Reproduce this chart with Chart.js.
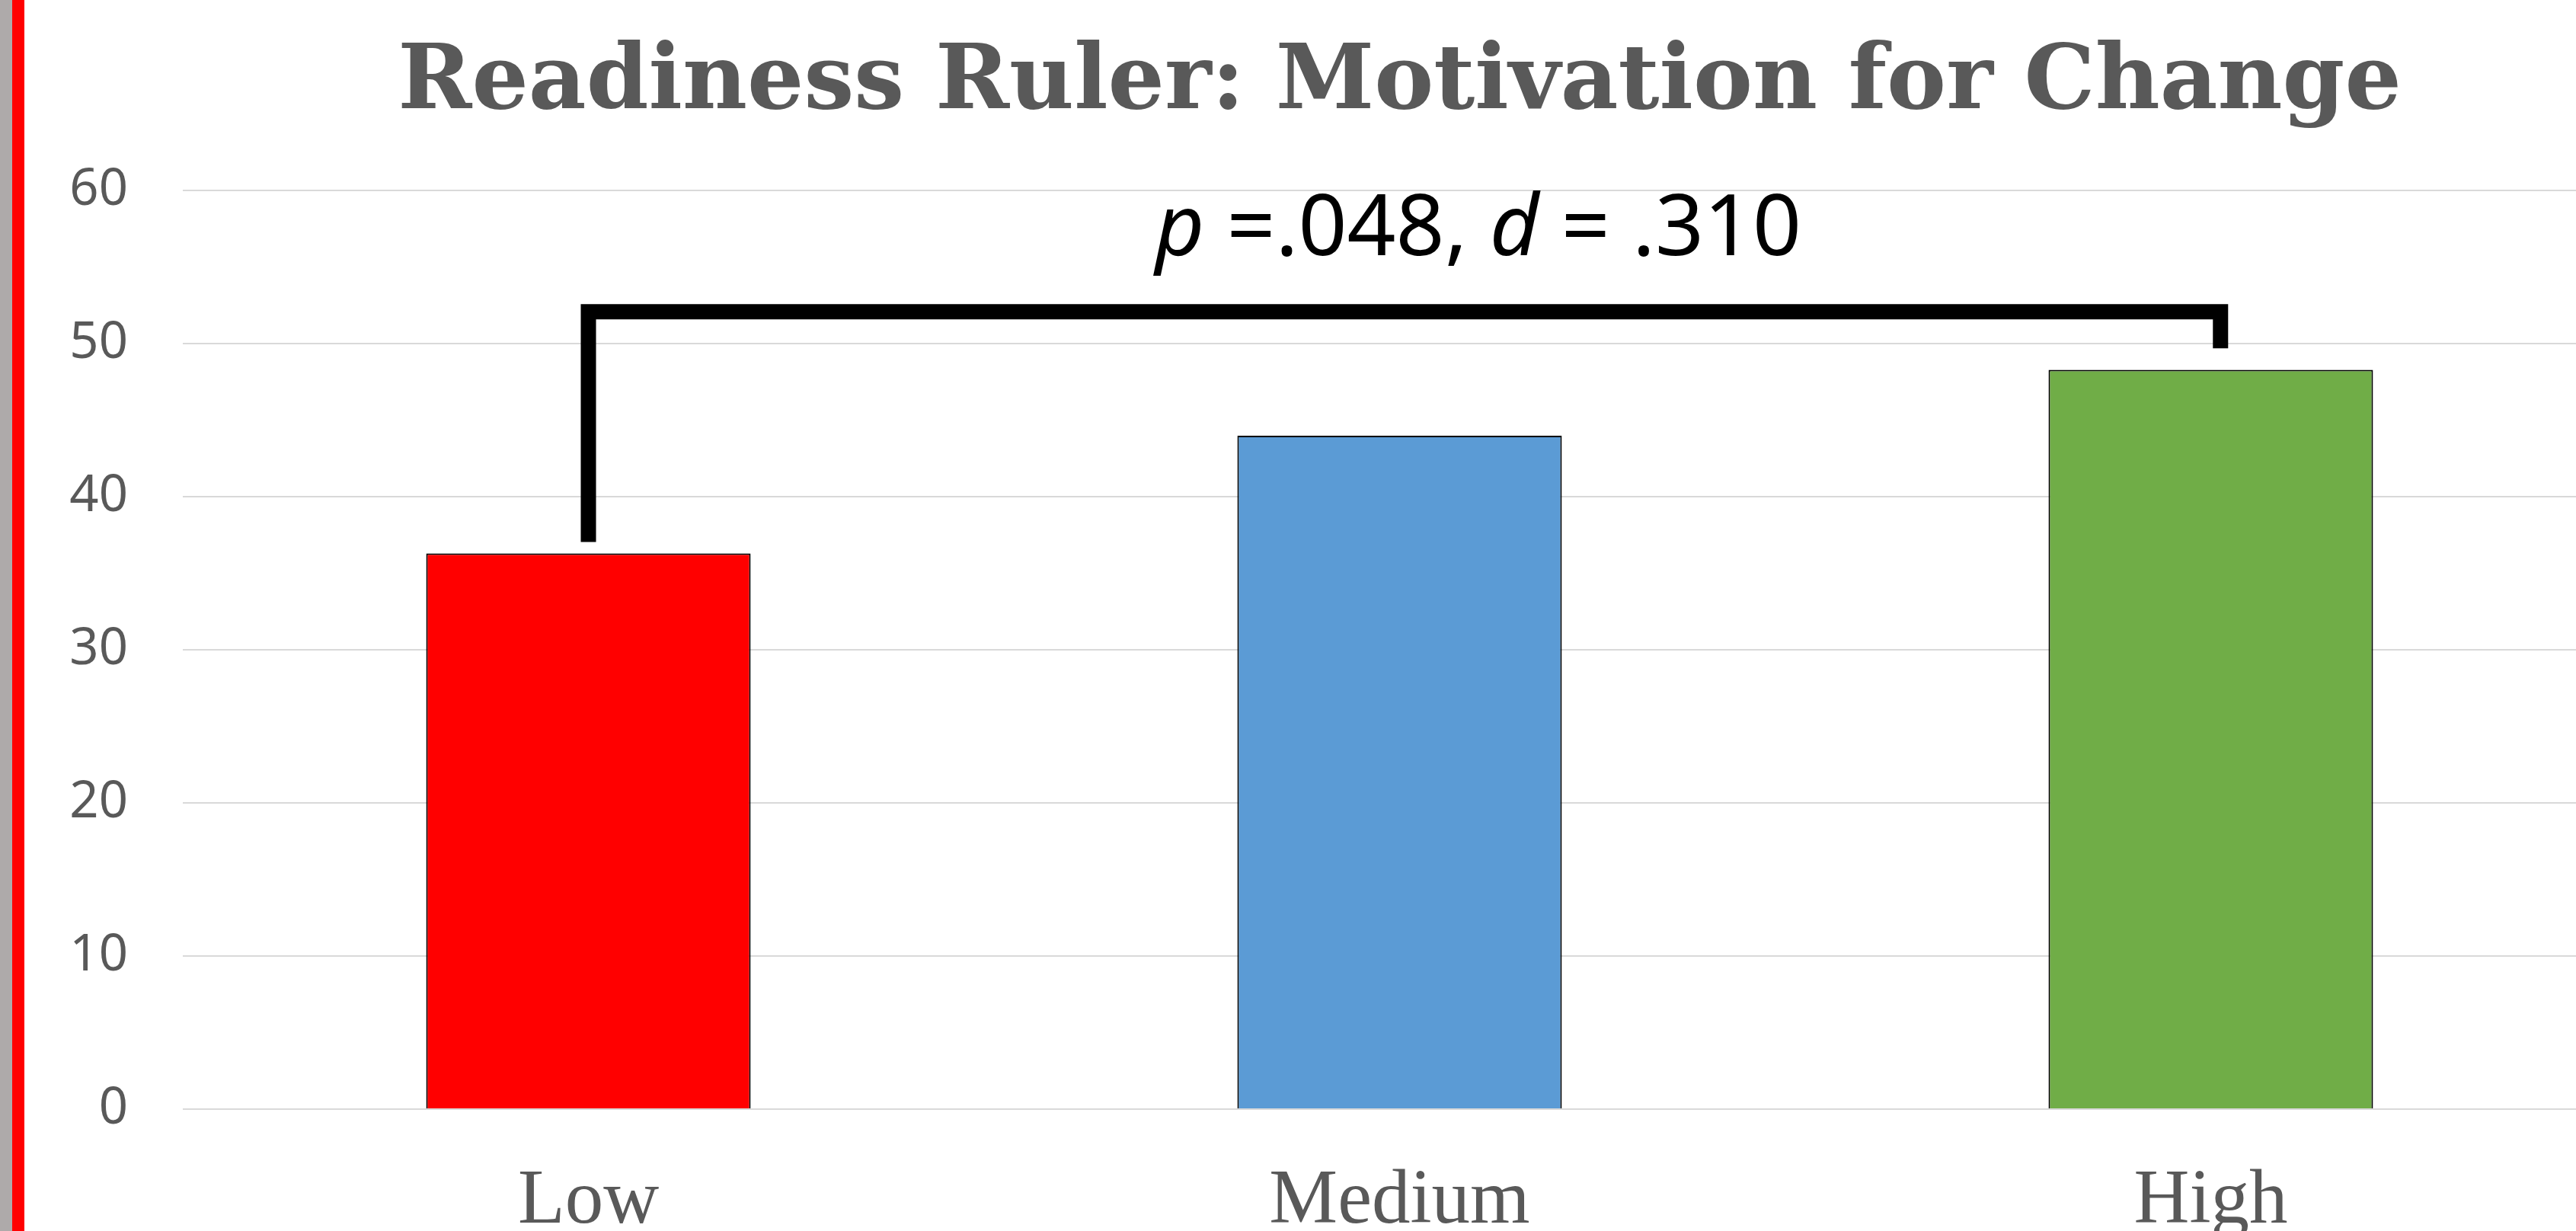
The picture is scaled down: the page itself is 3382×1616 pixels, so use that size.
<!DOCTYPE html>
<html>
<head>
<meta charset="utf-8">
<script src="https://cdn.jsdelivr.net/npm/chart.js@4.4.0/dist/chart.umd.min.js"></script>
<style>
  html, body { margin: 0; padding: 0; background: #fff; overflow: hidden; }
  .wrap { position: relative; width: 3440px; height: 1616px; }
  .edgeGrey { position: absolute; top: 0; left: 0; width: 16px; height: 1616px; background: #aeaaaa; }
  .edgeRed { position: absolute; top: 0; left: 16px; width: 16px; height: 1616px; background: #ff0000; }
</style>
</head>
<body>
<div class="wrap">
  <canvas id="myChart"></canvas>
  <div class="edgeGrey"></div>
  <div class="edgeRed"></div>
</div>
<script>
const categories = ["Low", "Medium", "High"];
const meanScores = [36.3, 44.0, 48.3];
const barColors = ["#ff0000", "#5b9bd5", "#70ad47"];
const yTicks = [0, 10, 20, 30, 40, 50, 60];

const titleText = "Readiness Ruler: Motivation for Change";

// significance bracket between Low and High
const bracketEnds = [0, 2.012];
const bracketTop = 52.1;
const bracketLegs = [37.05, 49.7];
const statLabel = [
  { t: "p", italic: true },
  { t: " =.048, " },
  { t: "d", italic: true },
  { t: " = .310" },
];
const statPos = [1.097, 55.8];

// size the title so it spans about the same width as the original
const titleFamily = "'DejaVu Serif'";
const measureCtx = document.createElement("canvas").getContext("2d");
measureCtx.font = "bold 100px " + titleFamily;
const titleSize = Math.round(100 * 2630 / measureCtx.measureText(titleText).width);
const titlePadTop = Math.round(146 - 0.9 * titleSize);
const titlePadBottom = Math.round(250 - titlePadTop - 1.2 * titleSize);

const bracketPlugin = {
  id: "bracket",
  afterDatasetsDraw(chart) {
    const { ctx } = chart;
    const x = chart.scales.x;
    const y = chart.scales.y;
    const x1 = x.getPixelForValue(bracketEnds[0]);
    const x2 = x.getPixelForValue(bracketEnds[1]);
    const yt = y.getPixelForValue(bracketTop);
    ctx.save();
    ctx.strokeStyle = "#000";
    ctx.lineWidth = 20;
    ctx.lineJoin = "miter";
    ctx.lineCap = "butt";
    ctx.beginPath();
    ctx.moveTo(x1, y.getPixelForValue(bracketLegs[0]));
    ctx.lineTo(x1, yt);
    ctx.lineTo(x2, yt);
    ctx.lineTo(x2, y.getPixelForValue(bracketLegs[1]));
    ctx.stroke();

    // stats label, mixed italic / upright
    const size = 112;
    const fontFor = (p) => (p.italic ? "italic " : "") + size + "px 'Noto Sans'";
    let total = 0;
    statLabel.forEach((p) => {
      ctx.font = fontFor(p);
      total += ctx.measureText(p.t).width;
    });
    let cx = x.getPixelForValue(statPos[0]) - total / 2;
    const by = y.getPixelForValue(statPos[1]);
    ctx.fillStyle = "#000";
    ctx.textBaseline = "alphabetic";
    ctx.textAlign = "left";
    statLabel.forEach((p) => {
      ctx.font = fontFor(p);
      ctx.fillText(p.t, cx, by);
      cx += ctx.measureText(p.t).width;
    });
    ctx.restore();
  },
};

const canvas = document.getElementById("myChart");
canvas.style.width = "3440px";
canvas.style.height = "1616px";

new Chart(canvas, {
  type: "bar",
  data: {
    labels: categories,
    datasets: [
      {
        data: meanScores,
        backgroundColor: barColors,
        borderColor: "#000000",
        borderWidth: 2,
        barPercentage: 0.4,
        categoryPercentage: 1.0,
      },
    ],
  },
  options: {
    responsive: false,
    animation: false,
    devicePixelRatio: 1,
    layout: { padding: { left: 0, right: 5, top: 0, bottom: 0 } },
    plugins: {
      legend: { display: false },
      tooltip: { enabled: false },
      title: {
        display: true,
        fullSize: false,
        text: titleText,
        color: "#595959",
        font: { family: titleFamily, size: titleSize, weight: "bold" },
        padding: { top: titlePadTop, bottom: titlePadBottom },
      },
    },
    scales: {
      x: {
        grid: { display: false },
        border: { display: false },
        ticks: {
          color: "#595959",
          font: { family: "'Liberation Serif'", size: 101 },
          padding: 54,
        },
        afterFit: (s) => { s.height = 160; },
      },
      y: {
        min: 0,
        max: 60,
        grid: { color: "#d9d9d9", lineWidth: 2, drawTicks: false },
        border: { display: false },
        ticks: {
          color: "#595959",
          font: { family: "'Noto Sans'", size: 67 },
          padding: 72,
        },
        afterBuildTicks: (s) => { s.ticks = yTicks.map((v) => ({ value: v })); },
        afterFit: (s) => { s.width = 240; },
      },
    },
  },
  plugins: [bracketPlugin],
});
</script>
</body>
</html>
